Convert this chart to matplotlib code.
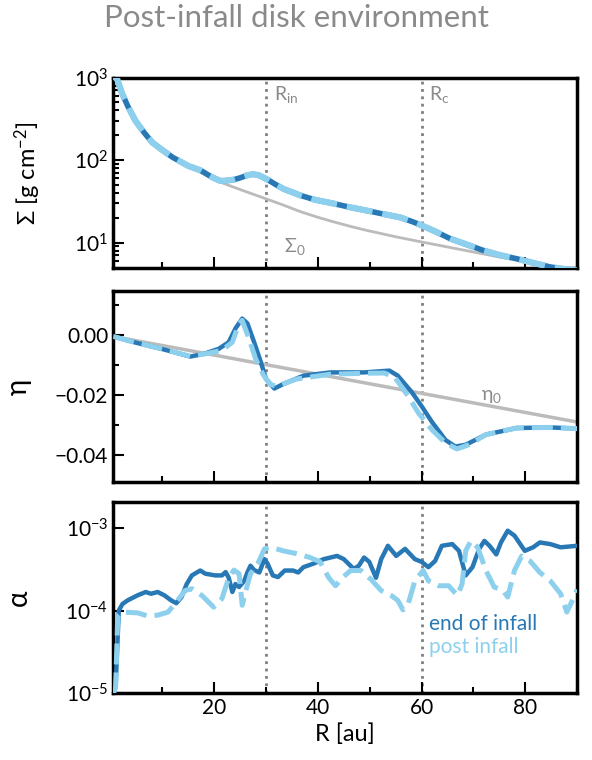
import matplotlib.pyplot as plt
import matplotlib.ticker as mticker
import numpy as np

plt.rcParams['font.family'] = ['Lato', 'DejaVu Sans']
plt.rcParams['mathtext.fontset'] = 'custom'
plt.rcParams['mathtext.rm'] = 'Lato'
plt.rcParams['mathtext.it'] = 'Lato'
plt.rcParams['mathtext.bf'] = 'Lato:bold'

# colours
c_end = '#2878b5'
c_post = '#8dd0ee'
c_grey = '#bbbbbb'
c_text = '#8a8a8a'

# surface density (both snapshots overlap)
R_sig = [0.6, 1.3, 2.2, 3.3, 4.8, 6.5, 8.0, 9.8, 12.0, 15.0, 17.4, 19.6, 21.2, 22.4,
         23.8, 25.0, 26.2, 27.4, 28.5, 29.4, 30.5, 32.0, 33.4, 36.6, 39.5, 43.0,
         46.0, 49.4, 52.5, 55.8, 58.2, 60.0, 62.5, 65.5, 68.5, 71.8, 75.0, 78.3,
         81.5, 84.7, 87.5, 90.0]
sig_end = [1050, 950, 650, 455, 300, 215, 165, 135, 108, 85, 75, 62, 56, 56.5,
           58, 61, 65, 67.5, 66, 62, 57, 50, 44.7, 37.4, 33, 29.8,
           27, 24.5, 22.3, 20.3, 18, 16.2, 13.8, 11.2, 9.6, 8.1, 7.1, 6.4,
           5.7, 5.1, 4.8, 4.6]
sig_post = sig_end
R_sig0 = [0.6, 1.3, 3.3, 6.5, 9.8, 15.0, 19.6, 21.2, 25.0, 30.0, 33.3, 36.6, 40.0,
          43.0, 46.2, 49.4, 55.0, 60.0, 64.5, 68.7, 75.0, 81.4, 86.6, 90.0]
sig0 = [1050, 950, 455, 215, 135, 85, 60, 54, 44, 34, 28.6, 23.8, 20.3,
        17.9, 15.8, 14.1, 11.8, 10.2, 9.0, 8.0, 6.7, 5.7, 4.9, 4.5]

# pressure gradient parameter eta
R_eta_end = [0.6, 5.0, 9.8, 15.4, 18.0, 20.9, 22.8, 24.1, 25.4, 26.4, 27.7, 29.0,
             30.0, 31.6, 33.3, 37.2, 42.4, 48.9, 53.8, 55.4, 58.1, 60.0, 62.0,
             64.6, 66.5, 68.5, 72.4, 78.3, 84.8, 90.0]
eta_end = [-0.0004, -0.0025, -0.0045, -0.0071, -0.0062, -0.0045, -0.0023, 0.0023,
           0.0056, 0.0040, -0.0023, -0.0090, -0.0146, -0.0178, -0.0163, -0.0135,
           -0.0124, -0.0124, -0.0118, -0.0135, -0.0190, -0.0237, -0.0290, -0.0350,
           -0.0372, -0.0366, -0.0332, -0.0310, -0.0308, -0.0312]
R_eta_post = [0.6, 5.0, 9.8, 15.4, 18.9, 21.5, 23.5, 24.8, 25.4, 26.7, 28.0, 29.4,
              30.7, 32.0, 35.9, 42.4, 48.9, 52.8, 54.8, 57.4, 59.4, 62.0, 64.6,
              66.8, 69.1, 72.4, 78.3, 84.8, 90.0]
eta_post = [-0.0004, -0.0025, -0.0045, -0.0070, -0.0060, -0.0050, -0.0023, 0.0040,
            0.0050, -0.0011, -0.0079, -0.0130, -0.0163, -0.0171, -0.0146, -0.0130,
            -0.0127, -0.0126, -0.0140, -0.0203, -0.0260, -0.0316, -0.0360,
            -0.0380, -0.0366, -0.0332, -0.0310, -0.0308, -0.0312]
R_eta0 = [0.6, 90.0]
eta0 = [-0.0004, -0.0290]

# turbulence parameter alpha
R_a_end = [0.6, 1.0, 1.6, 2.3, 3.3, 5.2, 6.8, 7.8, 9.1, 10.4, 11.7, 12.7, 13.7,
           14.7, 15.7, 17.3, 18.3, 20.2, 21.5, 22.2, 22.8, 23.5, 24.1, 24.8,
           25.8, 26.4, 27.0, 27.7, 28.7, 29.7, 30.3, 31.3, 32.3, 33.6, 35.2,
           36.2, 37.2, 39.1, 41.1, 43.7, 45.0, 46.9, 47.9, 48.9, 49.9, 51.2,
           52.2, 53.5, 55.1, 56.8, 58.7, 60.0, 61.3, 62.6, 63.9, 65.9, 67.2,
           68.5, 69.8, 71.1, 72.1, 73.1, 74.4, 75.3, 76.6, 77.9, 79.9, 81.5,
           82.8, 84.8, 86.8, 90.0]
a_end = [1e-5, 1.2e-5, 1.0e-4, 1.2e-4, 1.33e-4, 1.53e-4, 1.68e-4, 1.6e-4, 1.68e-4,
         1.53e-4, 1.33e-4, 1.23e-4, 1.46e-4, 2.1e-4, 2.67e-4, 3.06e-4, 2.8e-4,
         2.67e-4, 2.67e-4, 2.93e-4, 2.5e-4, 1.68e-4, 2.1e-4, 1.93e-4, 2.3e-4,
         2.9e-4, 3.5e-4, 3.1e-4, 2.9e-4, 4.2e-4, 3.7e-4, 2.67e-4, 2.55e-4,
         3.06e-4, 3.06e-4, 2.9e-4, 3.36e-4, 3.7e-4, 4.2e-4, 4.6e-4, 4.2e-4,
         3.2e-4, 3.5e-4, 4.4e-4, 3.9e-4, 2.5e-4, 4.2e-4, 6.1e-4, 4.6e-4, 5.6e-4,
         4.2e-4, 3.9e-4, 3.36e-4, 4.0e-4, 6.1e-4, 6.4e-4, 5.3e-4, 2.67e-4,
         3.36e-4, 5.6e-4, 7.0e-4, 6.1e-4, 4.8e-4, 6.7e-4, 9.3e-4, 8.1e-4,
         5.3e-4, 5.85e-4, 6.7e-4, 6.4e-4, 5.85e-4, 6.1e-4]
R_a_post = [0.6, 1.0, 1.4, 2.3, 5.2, 7.2, 9.1, 11.1, 12.7, 14.4, 15.7, 17.6, 19.9,
            21.5, 22.8, 23.8, 24.8, 25.4, 26.1, 27.0, 28.4, 29.7, 31.0, 33.3,
            35.9, 38.5, 40.4, 42.1, 43.4, 44.7, 46.3, 48.3, 50.2, 52.2, 54.1,
            55.4, 56.4, 57.4, 58.7, 60.3, 61.3, 63.3, 65.2, 66.9, 67.8, 68.5,
            69.5, 70.8, 72.4, 74.0, 75.7, 76.6, 77.9, 79.3, 80.9, 82.8, 84.8,
            86.8, 88.0, 89.0, 90.0]
a_post = [1e-5, 1.2e-5, 8.5e-5, 9.6e-5, 9.4e-5, 8.6e-5, 8.8e-5, 9.6e-5, 1.27e-4,
          1.75e-4, 1.84e-4, 1.53e-4, 1.1e-4, 1.4e-4, 2.5e-4, 3.1e-4, 2.8e-4,
          1.16e-4, 1.75e-4, 2.8e-4, 3.7e-4, 5.6e-4, 5.85e-4, 5.3e-4, 4.9e-4,
          4.4e-4, 3.9e-4, 2.5e-4, 2.0e-4, 2.5e-4, 3.06e-4, 3.06e-4, 2.4e-4,
          1.75e-4, 1.53e-4, 1.33e-4, 1.02e-4, 1.2e-4, 2.3e-4, 3.06e-4, 2.3e-4,
          2.0e-4, 2.0e-4, 1.53e-4, 2.1e-4, 5.3e-4, 7.0e-4, 5.85e-4, 3.06e-4,
          1.93e-4, 1.75e-4, 1.46e-4, 3.06e-4, 4.6e-4, 4.0e-4, 2.9e-4, 2.3e-4,
          1.6e-4, 9.6e-5, 1.3e-4, 1.8e-4]

R_in, R_c = 30, 60

fig = plt.figure(figsize=(5.92, 7.6), dpi=100)
left, width, height = 0.191, 0.784, 0.251
ax1 = fig.add_axes([left, 0.647, width, height])
ax2 = fig.add_axes([left, 0.366, width, height])
ax3 = fig.add_axes([left, 0.088, width, height])

dash = (4.2, 1.6)
for ax in (ax1, ax2, ax3):
    ax.axvline(R_in, color='#808080', ls=':', lw=2, zorder=1)
    ax.axvline(R_c, color='#808080', ls=':', lw=2, zorder=1)
    ax.set_xlim(0.5, 90)
    ax.xaxis.set_major_locator(mticker.MultipleLocator(20))
    ax.xaxis.set_minor_locator(mticker.MultipleLocator(10))
    for s in ax.spines.values():
        s.set_linewidth(2.5)
    ax.tick_params(which='both', direction='in', labelsize=15, width=1.5)
    ax.tick_params(which='major', length=8)
    ax.tick_params(which='minor', length=4)

# Sigma
ax1.plot(R_sig0, sig0, color=c_grey, lw=2, zorder=2)
ax1.plot(R_sig, sig_end, color=c_end, lw=4, zorder=3)
ax1.plot(R_sig, sig_post, color=c_post, lw=4.5, ls=(0, dash), zorder=4)
ax1.set_yscale('log')
ax1.set_ylim(4.9, 1000)
ax1.set_ylabel('Σ [g cm$^{-2}$]', fontsize=17)
ax1.yaxis.set_label_coords(-0.15, 0.5)
ax1.tick_params(labelbottom=False)
ax1.text(R_in + 1.5, 0.91, r'R$_{\rm in}$', transform=ax1.get_xaxis_transform(),
         color=c_text, fontsize=14, va='center')
ax1.text(R_c + 1.5, 0.91, r'R$_{\rm c}$', transform=ax1.get_xaxis_transform(),
         color=c_text, fontsize=14, va='center')
ax1.text(33.5, 9.0, 'Σ$_0$', color=c_text, fontsize=14, va='center')

# eta
ax2.plot(R_eta0, eta0, color=c_grey, lw=2.5, zorder=2)
ax2.plot(R_eta_end, eta_end, color=c_end, lw=3.2, zorder=3)
ax2.plot(R_eta_post, eta_post, color=c_post, lw=3.6, ls=(0, dash), zorder=4)
ax2.set_ylim(-0.049, 0.0148)
ax2.yaxis.set_major_locator(mticker.MultipleLocator(0.02))
ax2.yaxis.set_minor_locator(mticker.MultipleLocator(0.01))
ax2.yaxis.set_major_formatter(mticker.FuncFormatter(lambda v, p: f'{v:.2f}'.replace('-', '\u2212')))
ax2.set_ylabel('η', fontsize=20)
ax2.yaxis.set_label_coords(-0.175, 0.5)
ax2.tick_params(labelbottom=False)
ax2.text(71.5, -0.0205, 'η$_0$', color=c_text, fontsize=14, va='center')

# alpha
ax3.plot(R_a_end, a_end, color=c_end, lw=3.2, zorder=3)
ax3.plot(R_a_post, a_post, color=c_post, lw=3.6, ls=(0, dash), zorder=4)
ax3.set_yscale('log')
ax3.set_ylim(1e-5, 2.05e-3)
ax3.yaxis.set_minor_locator(mticker.NullLocator())
ax3.set_ylabel('α', fontsize=20)
ax3.yaxis.set_label_coords(-0.175, 0.5)
ax3.set_xlabel('R [au]', fontsize=17)
ax3.text(61.5, 0.36, 'end of infall', transform=ax3.get_xaxis_transform(),
         color=c_end, fontsize=15, va='center')
ax3.text(61.5, 0.24, 'post infall', transform=ax3.get_xaxis_transform(),
         color=c_post, fontsize=15, va='center')

fig.text(0.5, 0.976, 'Post-infall disk environment', ha='center', va='center',
         color=c_text, fontsize=22.5)

fig.savefig('out.png', dpi=100)
